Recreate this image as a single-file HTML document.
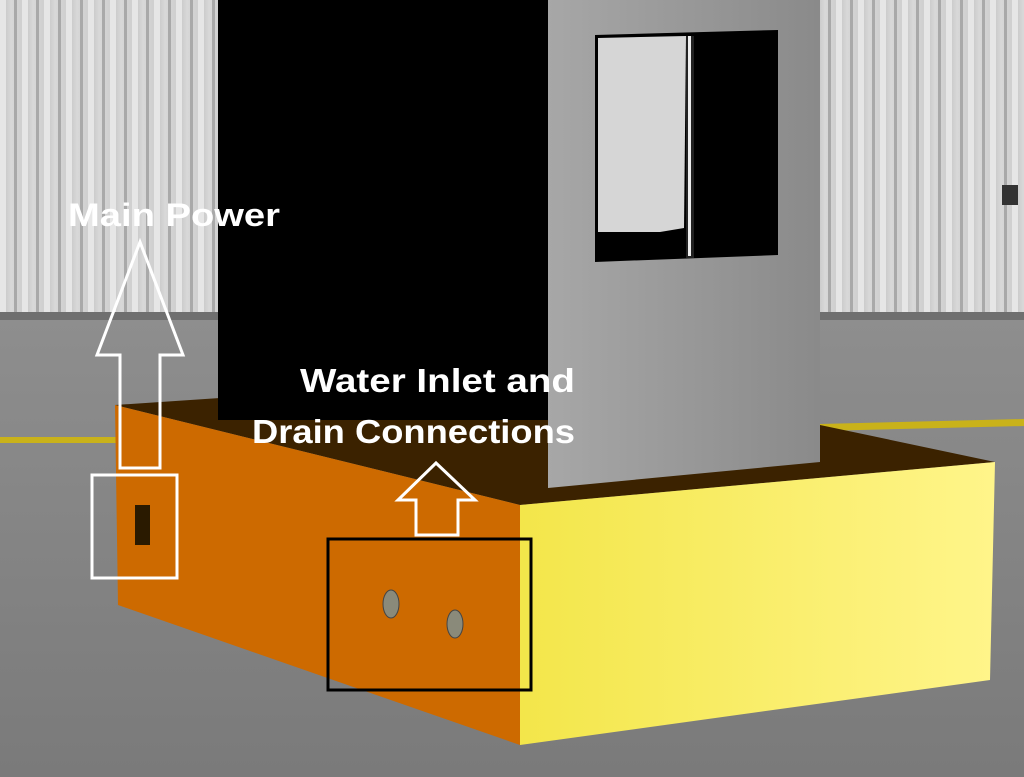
<!DOCTYPE html>
<html><head><meta charset="utf-8"><style>
html,body{margin:0;padding:0;width:1024px;height:777px;overflow:hidden;background:#8a8a8a}
svg{display:block}
text{font-family:"Liberation Sans",sans-serif;font-weight:bold;fill:#fff}
</style></head><body>
<svg width="1024" height="777" viewBox="0 0 1024 777" xmlns="http://www.w3.org/2000/svg">
<defs>
<linearGradient id="wall" x1="0" x2="1" y1="0" y2="0">
<stop offset="0" stop-color="#bdbdbd"/><stop offset="0.5" stop-color="#d8d8d8"/><stop offset="1" stop-color="#cfcfcf"/>
</linearGradient>
<pattern id="rib" width="22" height="320" patternUnits="userSpaceOnUse">
<rect width="22" height="320" fill="url(#wall)"/>
<rect x="0" width="6" height="320" fill="#e6e6e6"/>
<rect x="14" width="3" height="320" fill="#a9a9a9"/>
</pattern>
<linearGradient id="ground" x1="0" x2="0" y1="0" y2="1">
<stop offset="0" stop-color="#8e8e8e"/><stop offset="1" stop-color="#7a7a7a"/>
</linearGradient>
<linearGradient id="yel" x1="0" x2="1" y1="0" y2="0">
<stop offset="0" stop-color="#f3e64a"/><stop offset="1" stop-color="#fff58a"/>
</linearGradient>
<linearGradient id="gray" x1="0" x2="1" y1="0" y2="0">
<stop offset="0" stop-color="#a7a7a7"/><stop offset="1" stop-color="#8a8a8a"/>
</linearGradient>
</defs>
<rect width="1024" height="320" fill="url(#rib)"/>
<rect y="315" width="1024" height="462" fill="url(#ground)"/>
<rect y="312" width="1024" height="8" fill="#6f6f6f"/>
<rect x="0" y="437" width="120" height="6" fill="#c9b21a"/>
<polygon points="820,424 1024,419 1024,426 820,431" fill="#c9b21a"/>
<rect x="1002" y="185" width="16" height="20" fill="#333"/>
<polygon points="115,405 220,398 820,425 995,462 520,505" fill="#3b2200"/>
<rect x="218" y="0" width="332" height="420" fill="#000"/>
<polygon points="548,0 820,0 820,462 548,488" fill="url(#gray)"/>
<polygon points="595,35 778,30 778,255 595,262" fill="#000"/>
<polygon points="598,38 686,36 684,228 660,232 598,232" fill="#d6d6d6"/>
<rect x="686" y="36" width="8" height="222" fill="#222"/>
<rect x="688" y="36" width="3" height="220" fill="#eee"/>
<polygon points="115,405 520,505 520,745 118,605" fill="#cd6a00"/>
<polygon points="520,505 995,462 990,680 520,745" fill="url(#yel)"/>
<text x="68" y="226" font-size="32" textLength="212" lengthAdjust="spacingAndGlyphs">Main Power</text>
<polygon points="120,468 160,468 160,355 183,355 140,242 97,355 120,355" fill="none" stroke="#fff" stroke-width="3"/>
<rect x="92" y="475" width="85" height="103" fill="none" stroke="#fff" stroke-width="3"/>
<rect x="135" y="505" width="15" height="40" fill="#2a1a00"/>
<text x="300" y="392" font-size="33" textLength="275" lengthAdjust="spacingAndGlyphs">Water Inlet and</text>
<text x="252" y="443" font-size="33" textLength="323" lengthAdjust="spacingAndGlyphs">Drain Connections</text>
<polygon points="416,535 458,535 458,500 475,500 436,463 398,500 416,500" fill="none" stroke="#fff" stroke-width="3"/>
<rect x="328" y="539" width="203" height="151" fill="none" stroke="#000" stroke-width="3"/>
<ellipse cx="391" cy="604" rx="8" ry="14" fill="#8a8a7a" stroke="#444" stroke-width="1"/>
<ellipse cx="455" cy="624" rx="8" ry="14" fill="#8a8a7a" stroke="#444" stroke-width="1"/>
</svg>
</body></html>
